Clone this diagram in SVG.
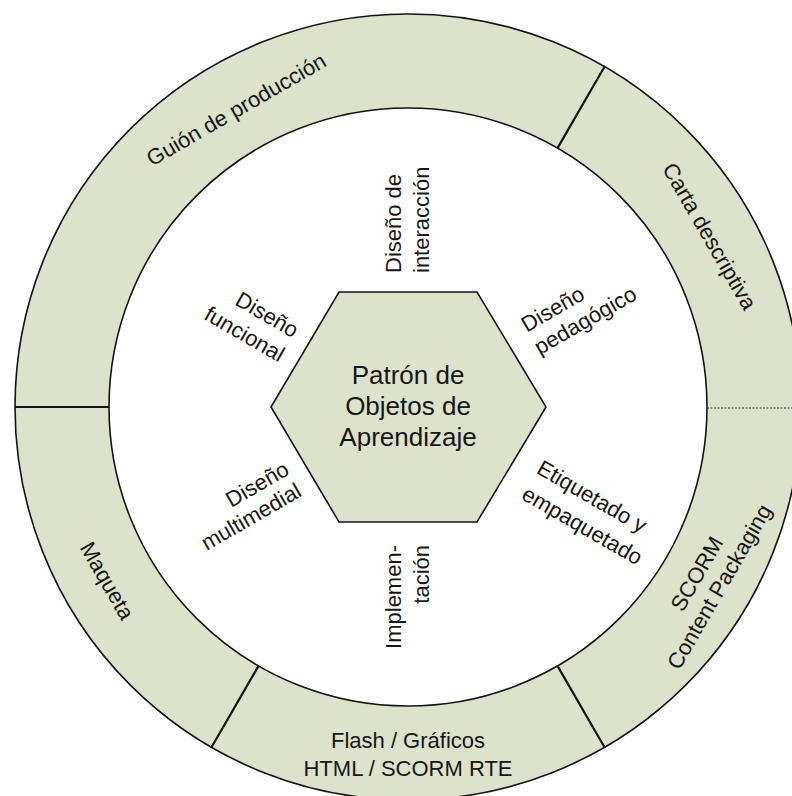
<svg xmlns="http://www.w3.org/2000/svg" width="792" height="796" viewBox="0 0 792 796">
<style>
.bg{fill:#ffffff}
.seg{fill:#dde2cc;stroke:none}
.ln{fill:none;stroke:#141414;stroke-width:1.6}
.sep{stroke:#141414;stroke-width:2.2}
.dsep{stroke:#333;stroke-width:1.2;stroke-dasharray:2 1.5}
.hex{fill:#dde2cc;stroke:#141414;stroke-width:1.6}
text{font-family:"Liberation Sans",Arial,sans-serif;fill:#161616}
.lb{font-size:22px}
.hx{font-size:26px;text-anchor:middle}
.mid{text-anchor:middle}
.end{text-anchor:end}
</style>
<rect class="bg" x="0" y="0" width="792" height="796"/>
<g id="guion">
<path class="seg" d="M604.5 66.7 A393 393 0 0 0 15 407 L109 407 A299 299 0 0 1 557.5 148.1 Z"/>
<text class="lb mid" transform="translate(408 407) rotate(-30)" x="0" y="-336">Guión de producción</text>
</g>
<g id="carta">
<path class="seg" d="M801 407 A393 393 0 0 0 604.5 66.7 L557.5 148.1 A299 299 0 0 1 707 407 Z"/>
<text class="lb mid" transform="translate(408 407) rotate(60)" x="3" y="-339">Carta descriptiva</text>
</g>
<g id="scorm">
<path class="seg" d="M604.5 747.3 A393 393 0 0 0 801 407 L707 407 A299 299 0 0 1 557.5 665.9 Z"/>
<text class="lb mid" transform="translate(408 407) rotate(-60)"><tspan x="0" y="341">SCORM</tspan><tspan x="0" y="367">Content Packaging</tspan></text>
</g>
<g id="flash">
<path class="seg" d="M211.5 747.3 A393 393 0 0 0 604.5 747.3 L557.5 665.9 A299 299 0 0 1 258.5 665.9 Z"/>
<text class="lb mid"><tspan x="408" y="748">Flash / Gráficos</tspan><tspan x="408" y="776">HTML / SCORM RTE</tspan></text>
</g>
<g id="maqueta">
<path class="seg" d="M15 407 A393 393 0 0 0 211.5 747.3 L258.5 665.9 A299 299 0 0 1 109 407 Z"/>
<text class="lb mid" transform="translate(408 407) rotate(60)" x="0" y="355">Maqueta</text>
</g>
<g id="connectors">
<circle class="ln" cx="408" cy="407" r="393"/>
<circle class="ln" cx="408" cy="407" r="299"/>
<line class="sep" x1="557.5" y1="148.1" x2="604.5" y2="66.7"/>
<line class="sep" x1="109" y1="407" x2="15" y2="407"/>
<line class="sep" x1="258.5" y1="665.9" x2="211.5" y2="747.3"/>
<line class="sep" x1="557.5" y1="665.9" x2="604.5" y2="747.3"/>
<line class="dsep" x1="707" y1="408" x2="792" y2="408"/>
</g>
<g id="patron">
<polygon class="hex" points="339,292 477,292 546,407 477,522 339,522 271,407"/>
<text class="hx"><tspan x="408" y="384">Patrón de</tspan><tspan x="408" y="415">Objetos de</tspan><tspan x="408" y="446">Aprendizaje</tspan></text>
</g>
<g id="interaccion">
<text class="lb" transform="translate(408 407) rotate(-90)"><tspan x="134" y="-7">Diseño de</tspan><tspan x="134" y="21">interacción</tspan></text>
</g>
<g id="pedagogico">
<text class="lb" transform="translate(408 407) rotate(-30)"><tspan x="140" y="-5">Diseño</tspan><tspan x="140" y="21">pedagógico</tspan></text>
</g>
<g id="etiquetado">
<text class="lb" transform="translate(408 407) rotate(30)"><tspan x="143" y="-7">Etiquetado y</tspan><tspan x="143" y="23">empaquetado</tspan></text>
</g>
<g id="implementacion">
<text class="lb end" transform="translate(408 407) rotate(-90)"><tspan x="-138" y="-7">Implemen-</tspan><tspan x="-138" y="21">tación</tspan></text>
</g>
<g id="multimedial">
<text class="lb end" transform="translate(408 407) rotate(-30)"><tspan x="-135" y="-1">Diseño</tspan><tspan x="-135" y="24">multimedial</tspan></text>
</g>
<g id="funcional">
<text class="lb end" transform="translate(408 407) rotate(30)"><tspan x="-134" y="-2">Diseño</tspan><tspan x="-134" y="26">funcional</tspan></text>
</g>
</svg>
